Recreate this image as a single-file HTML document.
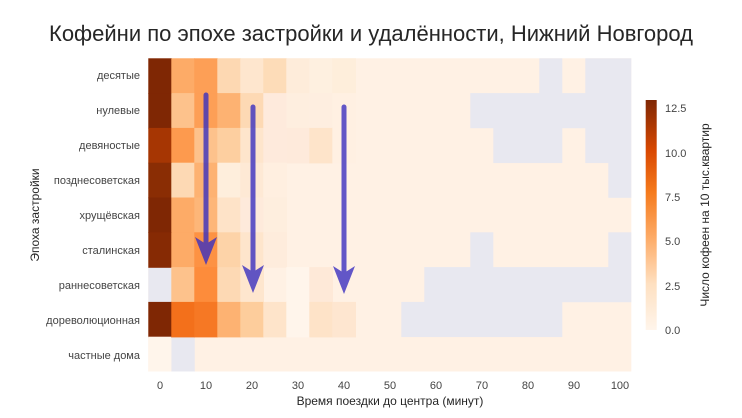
<!DOCTYPE html>
<html><head><meta charset="utf-8"><style>
body{margin:0;background:#fff;}
svg{display:block;font-family:"Liberation Sans","DejaVu Sans",sans-serif;}
</style></head><body>
<svg width="742" height="418" viewBox="0 0 742 418" xmlns="http://www.w3.org/2000/svg">
<defs>
<linearGradient id="cb" x1="0" y1="1" x2="0" y2="0">
<stop offset="0" stop-color="#fff5eb"/>
<stop offset="0.2" stop-color="#fee0c1"/>
<stop offset="0.4" stop-color="#fdab67"/>
<stop offset="0.6" stop-color="#f57a1c"/>
<stop offset="0.78" stop-color="#d94801"/>
<stop offset="1" stop-color="#7f2704"/>
</linearGradient>
</defs>
<text x="371" y="41" text-anchor="middle" font-size="22" fill="#262626">Кофейни по эпохе застройки и удалённости, Нижний Новгород</text>
<g transform="translate(148.3,58.3) scale(23,34.8)">
<rect x="0" y="0" width="21" height="9" fill="#fff1e4"/>
<g fill="#e8e8f0">
<rect x="17" y="0" width="1" height="1.01"/><rect x="19" y="0" width="2" height="1.01"/>
<rect x="14" y="1" width="7" height="1.01"/>
<rect x="15" y="2" width="3" height="1.01"/><rect x="19" y="2" width="2" height="1.01"/>
<rect x="20" y="3" width="1" height="1.01"/>
<rect x="14" y="5" width="1" height="1.01"/><rect x="20" y="5" width="1" height="1.01"/>
<rect x="0" y="6" width="1.02" height="1.01"/><rect x="12" y="6" width="9" height="1.01"/>
<rect x="11" y="7" width="7" height="1.01"/>
<rect x="1" y="8" width="1.02" height="1"/>
</g>
<g>
<rect x="0" y="0" width="1.03" height="1.02" fill="#7f2704"/><rect x="1" y="0" width="1.03" height="1.02" fill="#fdab67"/><rect x="2" y="0" width="1.03" height="1.02" fill="#fd9f56"/><rect x="3" y="0" width="1.03" height="1.02" fill="#fdd8b2"/><rect x="4" y="0" width="1.03" height="1.02" fill="#fee6ce"/><rect x="5" y="0" width="1.03" height="1.02" fill="#fddcb8"/><rect x="6" y="0" width="1.03" height="1.02" fill="#feecda"/><rect x="7" y="0" width="1.03" height="1.02" fill="#fef0e0"/><rect x="8" y="0" width="1.03" height="1.02" fill="#feeedb"/>
<rect x="0" y="1" width="1.03" height="1.02" fill="#7f2704"/><rect x="1" y="1" width="1.03" height="1.02" fill="#fdc28c"/><rect x="2" y="1" width="1.03" height="1.02" fill="#fd9f56"/><rect x="3" y="1" width="1.03" height="1.02" fill="#fdb272"/><rect x="4" y="1" width="1.03" height="1.02" fill="#fdd9b4"/><rect x="5" y="1" width="1.03" height="1.02" fill="#feeadc"/><rect x="6" y="1" width="1.03" height="1.02" fill="#feeedf"/><rect x="7" y="1" width="1.03" height="1.02" fill="#feeee0"/><rect x="8" y="1" width="1.03" height="1.02" fill="#fff0e2"/>
<rect x="0" y="2" width="1.03" height="1.02" fill="#a63603"/><rect x="1" y="2" width="1.03" height="1.02" fill="#fd9a4e"/><rect x="2" y="2" width="1.03" height="1.02" fill="#fdc28c"/><rect x="3" y="2" width="1.03" height="1.02" fill="#fdcfa0"/><rect x="4" y="2" width="1.03" height="1.02" fill="#fee5cc"/><rect x="5" y="2" width="1.03" height="1.02" fill="#feeadc"/><rect x="6" y="2" width="1.03" height="1.02" fill="#feeadb"/><rect x="7" y="2" width="1.03" height="1.02" fill="#fee4ca"/><rect x="8" y="2" width="1.03" height="1.02" fill="#fff0e2"/>
<rect x="0" y="3" width="1.03" height="1.02" fill="#8a2d04"/><rect x="1" y="3" width="1.03" height="1.02" fill="#fdd9b4"/><rect x="2" y="3" width="1.03" height="1.02" fill="#fdb272"/><rect x="3" y="3" width="1.03" height="1.02" fill="#feeedc"/><rect x="4" y="3" width="1.03" height="1.02" fill="#fee9d5"/><rect x="5" y="3" width="1.03" height="1.02" fill="#ffefe0"/>
<rect x="0" y="4" width="1.03" height="1.02" fill="#7f2704"/><rect x="1" y="4" width="1.03" height="1.02" fill="#fdab67"/><rect x="2" y="4" width="1.03" height="1.02" fill="#fdb678"/><rect x="3" y="4" width="1.03" height="1.02" fill="#fee3c8"/><rect x="4" y="4" width="1.03" height="1.02" fill="#feeadb"/><rect x="5" y="4" width="1.03" height="1.02" fill="#feeede"/>
<rect x="0" y="5" width="1.03" height="1.02" fill="#862a04"/><rect x="1" y="5" width="1.03" height="1.02" fill="#fdab67"/><rect x="2" y="5" width="1.03" height="1.02" fill="#fd9243"/><rect x="3" y="5" width="1.03" height="1.02" fill="#fdd3a8"/><rect x="4" y="5" width="1.03" height="1.02" fill="#fee5cc"/><rect x="5" y="5" width="1.03" height="1.02" fill="#feecdc"/>
<rect x="1" y="6" width="1.03" height="1.02" fill="#fdc28c"/><rect x="2" y="6" width="1.03" height="1.02" fill="#fd8c3b"/><rect x="3" y="6" width="1.03" height="1.02" fill="#fdd9b4"/><rect x="4" y="6" width="1.03" height="1.02" fill="#fee6ce"/><rect x="6" y="6" width="1.03" height="1.02" fill="#fff5eb"/><rect x="7" y="6" width="1.03" height="1.02" fill="#fee9d8"/>
<rect x="0" y="7" width="1.03" height="1.02" fill="#7f2704"/><rect x="1" y="7" width="1.03" height="1.02" fill="#f3701b"/><rect x="2" y="7" width="1.03" height="1.02" fill="#f67824"/><rect x="3" y="7" width="1.03" height="1.02" fill="#fdb272"/><rect x="4" y="7" width="1.03" height="1.02" fill="#fdcd9c"/><rect x="5" y="7" width="1.03" height="1.02" fill="#fee4ca"/><rect x="6" y="7" width="1.03" height="1.02" fill="#fff5eb"/><rect x="7" y="7" width="1.03" height="1.02" fill="#fee3c8"/><rect x="8" y="7" width="1.03" height="1.02" fill="#fee6d0"/>
<rect x="0" y="8" width="1" height="1" fill="#fff5eb"/>
</g>
</g>
<g fill="#444" font-size="11" text-anchor="end">
<text x="140" y="79">десятые</text>
<text x="140" y="114">нулевые</text>
<text x="140" y="149">девяностые</text>
<text x="140" y="184">позднесоветская</text>
<text x="140" y="219">хрущёвская</text>
<text x="140" y="254">сталинская</text>
<text x="140" y="289">раннесоветская</text>
<text x="140" y="324">дореволюционная</text>
<text x="140" y="359">частные дома</text>
</g>
<g fill="#444" font-size="11" text-anchor="middle">
<text x="160" y="389">0</text><text x="206" y="389">10</text><text x="252" y="389">20</text>
<text x="298" y="389">30</text><text x="344" y="389">40</text><text x="390" y="389">50</text>
<text x="436" y="389">60</text><text x="482" y="389">70</text><text x="528" y="389">80</text>
<text x="574" y="389">90</text><text x="620" y="389">100</text>
</g>
<text x="390" y="405" text-anchor="middle" font-size="12" fill="#262626">Время поездки до центра (минут)</text>
<text transform="translate(39,215) rotate(-90)" text-anchor="middle" font-size="12" fill="#262626">Эпоха застройки</text>
<rect x="645.7" y="100" width="11" height="230" fill="url(#cb)"/>
<g fill="#444" font-size="11">
<text x="665" y="112">12.5</text><text x="665" y="157">10.0</text><text x="665" y="201">7.5</text>
<text x="665" y="245">5.0</text><text x="665" y="290">2.5</text><text x="665" y="334">0.0</text>
</g>
<text transform="translate(709,215) rotate(-90)" text-anchor="middle" font-size="12" fill="#262626">Число кофеен на 10 тыс.квартир</text>
<g fill="#3b30c0" stroke="#3b30c0" opacity="0.8">
<line x1="206" y1="95" x2="206" y2="250" stroke-width="5" stroke-linecap="round"/>
<path d="M195 237 L206 265 L217 237 L206 244 Z" stroke="none"/>
<line x1="253" y1="107" x2="253" y2="280" stroke-width="5" stroke-linecap="round"/>
<path d="M242 265 L253 293 L264 265 L253 272 Z" stroke="none"/>
<line x1="344" y1="107" x2="344" y2="280" stroke-width="5" stroke-linecap="round"/>
<path d="M333 266 L344 294 L355 266 L344 273 Z" stroke="none"/>
</g>
</svg>
</body></html>
